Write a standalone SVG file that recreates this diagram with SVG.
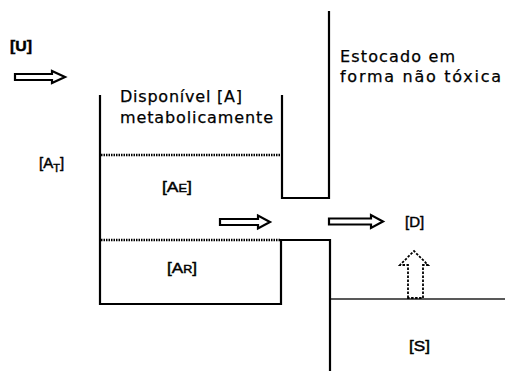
<svg xmlns="http://www.w3.org/2000/svg" width="505" height="371" viewBox="0 0 505 371">
<style>
.wall{fill:none;stroke:#000;stroke-width:2.2;stroke-linecap:square}
.dot{fill:none;stroke:#000;stroke-width:2.4;stroke-dasharray:1.5 1}
.ground{fill:none;stroke:#222;stroke-width:1.6}
.arrow{fill:#fff;stroke:#000;stroke-width:2.2;stroke-linejoin:miter}
.darrow{fill:#fff;stroke:#000;stroke-width:1.8;stroke-dasharray:2.5 1.5}
.t{font-family:"DejaVu Sans","Liberation Sans",sans-serif;font-size:16px;fill:#000;stroke:#000;stroke-width:0.25}
.lab{font-family:"Liberation Sans","DejaVu Sans",sans-serif;font-size:15px;fill:#000;stroke:#000;stroke-width:0.45}
.sub{font-size:11px}
</style>
<rect width="505" height="371" fill="#fff"/>
<g id="tank">
<path class="wall" d="M100,96 V304 H281 V240 H330 V371"/>
<path class="wall" d="M282,96 V198 H329 V12"/>
<path class="dot" d="M101,155 H281"/>
<path class="dot" d="M101,240 H281"/>
<path class="ground" d="M331,299 H505"/>
</g>
<g id="labels">
<text class="lab" x="10" y="51" font-weight="bold" textLength="22" lengthAdjust="spacingAndGlyphs">[U]</text>
<text class="t" x="120" y="102" textLength="122" lengthAdjust="spacing">Disponível [A]</text>
<text class="t" x="120" y="123" textLength="153" lengthAdjust="spacing">metabolicamente</text>
<text class="t" x="340" y="62" textLength="115" lengthAdjust="spacing">Estocado em</text>
<text class="t" x="340" y="82" textLength="161" lengthAdjust="spacing">forma não tóxica</text>
<text class="lab" x="39" y="168">[A<tspan class="sub" dy="4">T</tspan><tspan dy="-4">]</tspan></text>
<text class="lab" x="162" y="192" textLength="30" lengthAdjust="spacingAndGlyphs">[A<tspan class="sub">E</tspan>]</text>
<text class="lab" x="167" y="273" textLength="30" lengthAdjust="spacingAndGlyphs">[A<tspan class="sub">R</tspan>]</text>
<text class="lab" x="405" y="227">[D]</text>
<text class="lab" x="409" y="351" textLength="21" lengthAdjust="spacingAndGlyphs">[S]</text>
</g>
<g id="connectors">
<polygon class="arrow" points="15,74 52,74 52,71 65,77 52,83 52,80 15,80"/>
<polygon class="arrow" points="220,219 258,219 258,215.5 270,222 258,228.5 258,225 220,225"/>
<polygon class="arrow" points="329,218.5 371,218.5 371,215 383,221.5 371,228 371,224.5 329,224.5"/>
<polygon class="darrow" points="408,298 408,265 400,265 414,251 428,265 423,265 423,298"/>
</g>
</svg>
